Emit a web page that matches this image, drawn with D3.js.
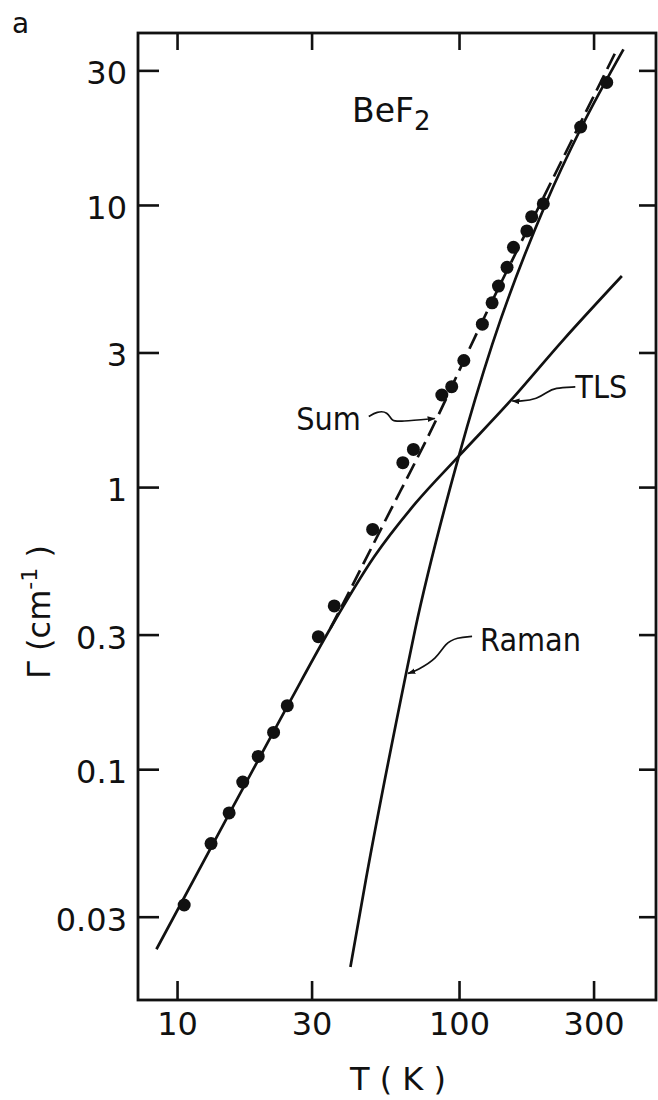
<!DOCTYPE html>
<html>
<head>
<meta charset="utf-8">
<script src="https://cdn.jsdelivr.net/npm/d3@7"></script>
<style>
  body { margin: 0; background: #fff; }
  svg text { font-family: "DejaVu Sans", sans-serif; fill: #111; }
  svg .word { font-family: "DejaVu Sans Condensed", "DejaVu Sans", sans-serif; font-stretch: condensed; }
</style>
</head>
<body>
<svg width="658" height="1100"></svg>
<script>
// measured linewidth of BeF2 glass vs temperature
const tempK = [10.6, 13.2, 15.3, 17.1, 19.4, 22.0, 24.6, 31.7, 36.1, 49.4, 63.2, 68.9,
  86.9, 94.2, 104, 121, 131, 138, 148, 156, 174, 181, 199, 270, 334]
const gammaObs = [0.033, 0.0545, 0.070, 0.090, 0.111, 0.135, 0.168, 0.295, 0.379, 0.708, 1.22, 1.36,
  2.12, 2.27, 2.81, 3.78, 4.50, 5.16, 6.01, 7.08, 8.09, 9.09, 10.1, 18.9, 27.2]

// fitted contributions
const tlsT = [8.45, 15, 24.6, 35, 50, 70, 100, 152, 234, 378]
const tlsG = [0.0230, 0.0669, 0.167, 0.316, 0.566, 0.875, 1.29, 2.02, 3.32, 5.60]

const ramanT = [41.2, 46.7, 64.9, 69.8, 99.8, 131, 203, 272, 383]
const ramanG = [0.0199, 0.0404, 0.2185, 0.311, 1.285, 3.19, 10.1, 18.9, 35.6]

const sumT = [35, 38.9, 53.8, 83.4, 100, 129, 199, 362]
const sumG = [0.316, 0.388, 0.735, 1.75, 2.58, 4.42, 10.6, 35.4]

const xTicks = [10, 30, 100, 300]
const yTicks = [0.03, 0.1, 0.3, 1, 3, 10, 30]
const xDomain = [7.27, 499.5]
const yDomain = [0.0152, 40.7]

const svg = d3.select('svg')
const width = +svg.attr('width')
const height = +svg.attr('height')
const margin = {top: 33, right: 2, bottom: 100, left: 138}
const ink = '#111'

const x = d3.scaleLog().domain(xDomain).range([margin.left, width - margin.right])
const y = d3.scaleLog().domain(yDomain).range([height - margin.bottom, margin.top])

const x0 = margin.left, x1 = width - margin.right
const y0 = height - margin.bottom, y1 = margin.top

function styleAxis(g, size) {
  g.select('.domain').remove()
  g.attr('font-family', null).attr('font-size', size).attr('color', ink)
  g.selectAll('line').attr('stroke-width', 2.6)
}

svg.append('g')
  .attr('transform', `translate(0,${y0})`)
  .call(d3.axisBottom(x).tickValues(xTicks).tickSize(-19).tickPadding(12).tickFormat(String))
  .call(g => styleAxis(g, 32))
  .call(g => g.selectAll('text').attr('dy', '0.71em'))

svg.append('g')
  .attr('transform', `translate(0,${y1})`)
  .call(d3.axisTop(x).tickValues(xTicks).tickSize(-17).tickFormat(''))
  .call(g => styleAxis(g, 32))

svg.append('g')
  .attr('transform', `translate(${x0},0)`)
  .call(d3.axisLeft(y).tickValues(yTicks).tickSize(-21).tickPadding(11).tickFormat(String))
  .call(g => styleAxis(g, 32))
  .call(g => g.selectAll('text').attr('dy', '0.42em'))

svg.append('g')
  .attr('transform', `translate(${x1},0)`)
  .call(d3.axisRight(y).tickValues(yTicks).tickSize(-17).tickFormat(''))
  .call(g => styleAxis(g, 32))

svg.append('rect')
  .attr('x', x0).attr('y', y1)
  .attr('width', x1 - x0).attr('height', y0 - y1)
  .attr('fill', 'none').attr('stroke', ink).attr('stroke-width', 2.8)

// curves
const line = d3.line()
  .x(d => x(d[0]))
  .y(d => y(d[1]))
  .curve(d3.curveMonotoneX)

const curves = svg.append('g').attr('fill', 'none').attr('stroke', ink).attr('stroke-width', 2.7)

curves.append('path').attr('d', line(d3.zip(tlsT, tlsG)))
curves.append('path').attr('d', line(d3.zip(ramanT, ramanG)))
curves.append('path').attr('d', line(d3.zip(sumT, sumG))).attr('stroke-dasharray', '17,7')

svg.append('g').selectAll('circle')
  .data(d3.zip(tempK, gammaObs))
  .join('circle')
  .attr('cx', d => x(d[0]))
  .attr('cy', d => y(d[1]))
  .attr('r', 6.5)
  .attr('fill', ink)

// labels with curly leaders pointing at their curve
svg.append('defs').append('marker')
  .attr('id', 'tip')
  .attr('viewBox', '0 0 10 10')
  .attr('refX', 9).attr('refY', 5)
  .attr('markerWidth', 8).attr('markerHeight', 8)
  .attr('markerUnits', 'userSpaceOnUse')
  .attr('orient', 'auto')
  .append('path').attr('d', 'M0,1.5L10,5L0,8.5Z').attr('fill', ink)

const notes = [
  {text: 'Sum', at: [sumT[3], sumG[3]], anchor: 'end', tx: -76, ty: 11,
    leader: [[-68, -2], [-60, -7], [-49, -7], [-45, 3], [-37, 3], [-2, 0]]},
  {text: 'TLS', at: [tlsT[7], tlsG[7]], anchor: 'start', tx: 65, ty: -3,
    leader: [[65, -14], [44, -13], [37, -9], [27, -2], [10, 0.5], [2, 0]]},
  {text: 'Raman', at: [ramanT[2], ramanG[2]], anchor: 'start', tx: 74, ty: -22,
    leader: [[66, -37], [51, -36], [39, -30], [31, -15], [11, -3], [2, 0]]}
]

const leader = d3.line().curve(d3.curveBasis)

notes.forEach(n => {
  const px = x(n.at[0]), py = y(n.at[1])
  svg.append('path')
    .attr('d', leader(n.leader.map(p => [px + p[0], py + p[1]])))
    .attr('fill', 'none').attr('stroke', ink).attr('stroke-width', 1.7)
    .attr('marker-end', 'url(#tip)')
  svg.append('text')
    .attr('class', 'word')
    .attr('x', px + n.tx).attr('y', py + n.ty)
    .attr('text-anchor', n.anchor)
    .attr('font-size', 32)
    .text(n.text)
})

// sample name
const name = svg.append('text').attr('x', 352).attr('y', 122).attr('font-size', 33)
name.append('tspan').text('BeF')
name.append('tspan').attr('font-size', 26).attr('dy', 8).text('2')

svg.append('text').attr('x', 12).attr('y', 33).attr('font-size', 28).text('a')

// axis titles
svg.append('text')
  .attr('x', (x0 + x1) / 2 + 1).attr('y', 1090)
  .attr('text-anchor', 'middle')
  .attr('font-size', 32)
  .text('T ( K )')

const yTitle = svg.append('text')
  .attr('transform', `translate(50,612) rotate(-90)`)
  .attr('text-anchor', 'middle')
  .attr('font-size', 32)
yTitle.append('tspan').text('Γ (cm')
yTitle.append('tspan').attr('font-size', 22).attr('dy', -13).text('-1')
yTitle.append('tspan').attr('dy', 13).text(' )')
</script>
</body>
</html>
